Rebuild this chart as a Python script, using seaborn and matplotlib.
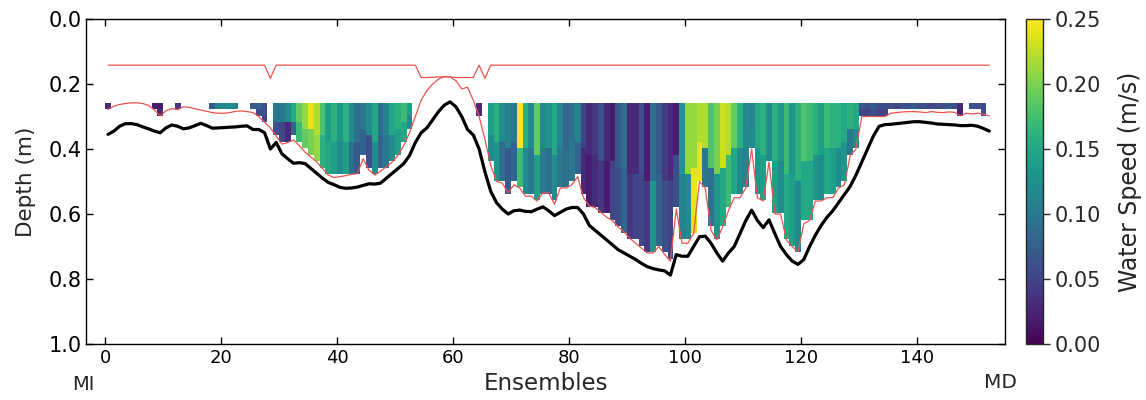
import numpy as np
import pandas as pd
import matplotlib
matplotlib.use("Agg")
import matplotlib.pyplot as plt
import seaborn as sns

# ---------------- data ----------------
ensembles = np.arange(1, 154)

bottom_depth = [
    0.355, 0.345, 0.33, 0.322, 0.322, 0.325, 0.332, 0.338, 0.345, 0.35,
    0.335, 0.326, 0.33, 0.338, 0.335, 0.328, 0.321, 0.328, 0.336, 0.335,
    0.334, 0.333, 0.332, 0.33, 0.329, 0.34, 0.34, 0.35, 0.40, 0.38,
    0.415, 0.43, 0.444, 0.442, 0.445, 0.46, 0.475, 0.49, 0.503, 0.51,
    0.518, 0.521, 0.52, 0.517, 0.512, 0.507, 0.508, 0.505, 0.49, 0.475,
    0.46, 0.445, 0.42, 0.38, 0.35, 0.335, 0.31, 0.285, 0.265, 0.255,
    0.27, 0.30, 0.34, 0.357, 0.40, 0.47, 0.53, 0.565, 0.585, 0.60,
    0.59, 0.588, 0.592, 0.593, 0.585, 0.578, 0.59, 0.605, 0.595, 0.585,
    0.58, 0.58, 0.60, 0.635, 0.65, 0.665, 0.68, 0.695, 0.71, 0.72,
    0.73, 0.74, 0.752, 0.762, 0.768, 0.772, 0.775, 0.788, 0.725, 0.73,
    0.73, 0.70, 0.67, 0.668, 0.69, 0.72, 0.745, 0.72, 0.70, 0.66,
    0.62, 0.588, 0.62, 0.642, 0.618, 0.66, 0.70, 0.725, 0.745, 0.755,
    0.74, 0.70, 0.665, 0.635, 0.61, 0.59, 0.565, 0.54, 0.515, 0.48,
    0.44, 0.40, 0.36, 0.33, 0.325, 0.324, 0.322, 0.32, 0.318, 0.316,
    0.316, 0.318, 0.32, 0.323, 0.324, 0.325, 0.326, 0.328, 0.328, 0.327,
    0.33, 0.337, 0.345,
]

cutoff_depth = [
    0.278, 0.268, 0.263, 0.26, 0.258, 0.258, 0.26, 0.266, 0.28, 0.298,
    0.282, 0.276, 0.279, 0.27, 0.272, 0.276, 0.28, 0.284, 0.288, 0.29,
    0.29, 0.288, 0.284, 0.283, 0.285, 0.288, 0.30, 0.318, 0.335, 0.36,
    0.385, 0.38, 0.372, 0.39, 0.41, 0.425, 0.44, 0.46, 0.48, 0.488,
    0.485, 0.482, 0.478, 0.476, 0.43, 0.465, 0.48, 0.468, 0.455, 0.44,
    0.42, 0.39, 0.35, 0.30, 0.25, 0.22, 0.20, 0.185, 0.177, 0.178,
    0.19, 0.215, 0.21, 0.25, 0.30, 0.37, 0.45, 0.50, 0.505, 0.535,
    0.51, 0.52, 0.545, 0.545, 0.56, 0.535, 0.535, 0.57, 0.52, 0.52,
    0.51, 0.485, 0.55, 0.575, 0.58, 0.595, 0.61, 0.62, 0.64, 0.655,
    0.675, 0.69, 0.705, 0.72, 0.72, 0.70, 0.725, 0.745, 0.585, 0.69,
    0.69, 0.66, 0.50, 0.52, 0.65, 0.68, 0.64, 0.59, 0.55, 0.55,
    0.52, 0.40, 0.55, 0.56, 0.44, 0.60, 0.60, 0.68, 0.70, 0.715,
    0.63, 0.62, 0.56, 0.56, 0.55, 0.55, 0.52, 0.51, 0.42, 0.40,
    0.30, 0.30, 0.30, 0.30, 0.30, 0.29, 0.288, 0.286, 0.285, 0.285,
    0.286, 0.288, 0.285, 0.287, 0.288, 0.286, 0.287, 0.298, 0.29, 0.292,
    0.29, 0.293, 0.298,
]

top_line_depth = [
    0.142, 0.142, 0.142, 0.142, 0.142, 0.142, 0.142, 0.142, 0.142, 0.142,
    0.142, 0.142, 0.142, 0.142, 0.142, 0.142, 0.142, 0.142, 0.142, 0.142,
    0.142, 0.142, 0.142, 0.142, 0.142, 0.142, 0.142, 0.142, 0.183, 0.142,
    0.142, 0.142, 0.142, 0.142, 0.142, 0.142, 0.142, 0.142, 0.142, 0.142,
    0.142, 0.142, 0.142, 0.142, 0.142, 0.142, 0.142, 0.142, 0.142, 0.142,
    0.142, 0.142, 0.142, 0.142, 0.18, 0.18, 0.179, 0.178, 0.178, 0.178,
    0.18, 0.18, 0.18, 0.18, 0.142, 0.183, 0.142, 0.142, 0.142, 0.142,
    0.142, 0.142, 0.142, 0.142, 0.142, 0.142, 0.142, 0.142, 0.142, 0.142,
    0.142, 0.142, 0.142, 0.142, 0.142, 0.142, 0.142, 0.142, 0.142, 0.142,
    0.142, 0.142, 0.142, 0.142, 0.142, 0.142, 0.142, 0.142, 0.142, 0.142,
    0.142, 0.142, 0.142, 0.142, 0.142, 0.142, 0.142, 0.142, 0.142, 0.142,
    0.142, 0.142, 0.142, 0.142, 0.142, 0.142, 0.142, 0.142, 0.142, 0.142,
    0.142, 0.142, 0.142, 0.142, 0.142, 0.142, 0.142, 0.142, 0.142, 0.142,
    0.142, 0.142, 0.142, 0.142, 0.142, 0.142, 0.142, 0.142, 0.142, 0.142,
    0.142, 0.142, 0.142, 0.142, 0.142, 0.142, 0.142, 0.142, 0.142, 0.142,
    0.142, 0.142, 0.142,
]

N = None
speed_upper = [
    0.03, N, N, N, N, N, N, N, 0.02, 0.02,
    N, N, 0.04, N, N, N, N, N, 0.07, 0.11,
    0.12, 0.12, 0.11, N, N, 0.07, 0.08, 0.06, N, 0.10,
    0.10, 0.12, 0.15, 0.19, 0.21, 0.24, 0.22, 0.18, 0.14, 0.16,
    0.13, 0.16, 0.12, 0.09, 0.10, 0.12, 0.15, 0.09, 0.11, 0.15,
    0.16, 0.17, 0.14, N, N, N, N, N, N, N,
    N, N, N, N, 0.03, N, 0.14, 0.16, 0.12, 0.11,
    0.10, 0.25, 0.16, 0.12, 0.19, 0.12, 0.13, 0.15, 0.11, 0.08,
    0.09, 0.11, 0.05, 0.03, 0.04, 0.06, 0.03, 0.02, 0.07, 0.09,
    0.03, 0.03, 0.06, 0.02, 0.09, 0.07, 0.04, 0.03, 0.02, 0.13,
    0.21, 0.21, 0.22, 0.22, 0.18, 0.20, 0.23, 0.22, 0.19, 0.16,
    0.12, 0.11, 0.15, 0.16, 0.12, 0.16, 0.13, 0.17, 0.13, 0.16,
    0.18, 0.17, 0.16, 0.14, 0.17, 0.16, 0.16, 0.15, 0.16, 0.15,
    0.07, 0.06, 0.07, 0.06, 0.06, 0.06, 0.05, 0.06, 0.06, 0.07,
    0.06, 0.06, 0.05, 0.06, 0.06, 0.07, 0.06, 0.03, N, 0.06,
    0.06, 0.06, N,
]

speed_lower = [
    0.03, N, N, N, N, N, N, N, 0.02, 0.03,
    N, N, 0.04, N, N, N, N, N, 0.07, 0.11,
    0.12, 0.12, 0.11, N, N, 0.07, 0.06, 0.05, N, 0.06,
    0.05, 0.03, 0.08, 0.17, 0.19, 0.20, 0.21, 0.16, 0.15, 0.14,
    0.12, 0.14, 0.09, 0.07, 0.08, 0.06, 0.12, 0.08, 0.10, 0.12,
    0.14, 0.15, 0.12, N, N, N, N, N, N, N,
    N, N, N, N, 0.03, N, 0.12, 0.13, 0.09, 0.07,
    0.08, 0.17, 0.12, 0.10, 0.14, 0.10, 0.09, 0.12, 0.10, 0.09,
    0.10, 0.08, 0.03, 0.02, 0.03, 0.04, 0.02, 0.05, 0.06, 0.08,
    0.04, 0.05, 0.05, 0.04, 0.13, 0.08, 0.06, 0.05, 0.06, 0.11,
    0.12, 0.24, 0.24, 0.10, 0.09, 0.13, 0.15, 0.17, 0.15, 0.12,
    0.11, 0.12, 0.13, 0.14, 0.12, 0.14, 0.12, 0.15, 0.14, 0.12,
    0.15, 0.15, 0.13, 0.12, 0.15, 0.14, 0.12, 0.13, 0.10, 0.12,
    0.05, 0.05, 0.06, 0.05, 0.05, 0.06, 0.05, 0.06, 0.06, 0.07,
    0.06, 0.06, 0.05, 0.06, 0.06, 0.07, 0.06, 0.02, N, 0.06,
    0.06, 0.06, N,
]

cell_top = 0.257      # depth of the first bin (m)
cell_size = 0.02      # bin size (m)
n_rows = 25

# ---------------- figure ----------------
sns.set_style("ticks")
plt.rcParams['font.family'] = ['DejaVu Sans']

W, H = 1146, 400
fig = plt.figure(figsize=(W / 100, H / 100), dpi=100)
ax = fig.add_axes([86 / W, 1 - 344 / H, (1005 - 86) / W, (344 - 19) / H])
cax = fig.add_axes([1026 / W, 1 - 344 / H, 17 / W, (344 - 19) / H])

n_ens = len(ensembles)
up = np.array(speed_upper, dtype=float)
lo = np.array(speed_lower, dtype=float)
cut = np.array(cutoff_depth, dtype=float)
row_bottoms = cell_top + cell_size * (np.arange(n_rows) + 1)
grid = np.full((n_rows, n_ens), np.nan)
for i in range(n_ens):
    n = int(np.sum(row_bottoms <= cut[i] + 0.004))
    if n == 0 or np.isnan(up[i]):
        continue
    k = (n + 1) // 2
    grid[:k, i] = up[i]
    grid[k:n, i] = lo[i]

x_edges = np.append(ensembles - 1, ensembles[-1])
y_edges = cell_top + cell_size * np.arange(n_rows + 1)
mesh = ax.pcolormesh(x_edges, y_edges, np.ma.masked_invalid(grid),
                     cmap='viridis', vmin=0, vmax=0.25, shading='flat')

df = pd.DataFrame({
    'x': ensembles - 0.5,
    'bottom': bottom_depth,
    'cutoff': cutoff_depth,
    'top': top_line_depth,
})
sns.lineplot(data=df, x='x', y='top', ax=ax, color='#e8534f', lw=0.9,
             estimator=None, sort=False)
sns.lineplot(data=df, x='x', y='cutoff', ax=ax, color='#e8534f', lw=0.9,
             estimator=None, sort=False)
sns.lineplot(data=df, x='x', y='bottom', ax=ax, color='black', lw=2.3,
             estimator=None, sort=False)

ax.set_xlim(-3.3, 155.2)
ax.set_ylim(1.0, 0.0)
ax.set_xticks(np.arange(0, 141, 20))
ax.set_yticks(np.arange(0, 1.01, 0.2))
ax.set_yticklabels([f"{v:.1f}" for v in np.arange(0, 1.01, 0.2)])
ax.tick_params(direction='in', top=True, right=True, length=5, width=1,
               colors='black')
ax.tick_params(axis='x', labelsize=13)
ax.tick_params(axis='y', labelsize=15, pad=3)
for s in ax.spines.values():
    s.set_color('black')
    s.set_linewidth(1.0)
ax.set_xlabel('Ensembles', fontsize=16.5, labelpad=4)
ax.set_ylabel('Depth (m)', fontsize=15.5, labelpad=9)

cb = fig.colorbar(mesh, cax=cax)
cb.set_ticks([0, 0.05, 0.10, 0.15, 0.20, 0.25])
cb.set_ticklabels(['0.00', '0.05', '0.10', '0.15', '0.20', '0.25'])
cb.ax.tick_params(labelsize=15, length=5, width=1)
cb.outline.set_linewidth(1.0)
cb.set_label('Water Speed (m/s)', fontsize=17, labelpad=12)

fig.text(83.5 / W, 1 - 385 / H, 'MI', ha='center', va='center', fontsize=14)
fig.text(1000 / W, 1 - 383 / H, 'MD', ha='center', va='center', fontsize=14.5)

fig.savefig('out.png', dpi=100)
